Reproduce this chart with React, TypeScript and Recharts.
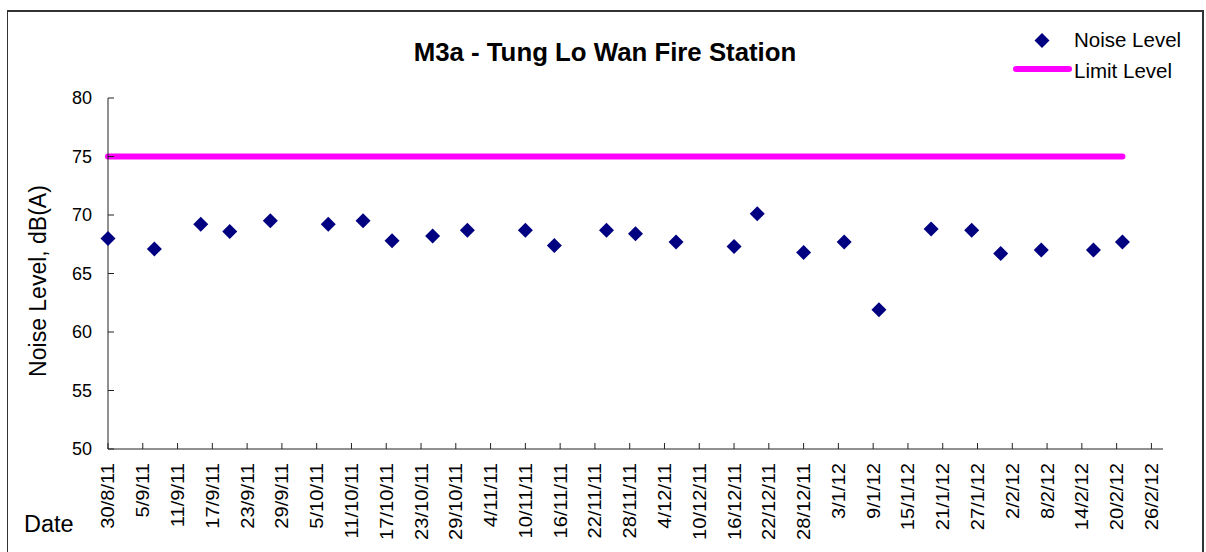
import React from "react";
import { ComposedChart, Scatter, Line, XAxis, YAxis, Legend } from "recharts";

// sampling dates (d/m/yy) and measured noise levels, dB(A)
const noiseDates = [
  "30/8/11", "7/9/11", "15/9/11", "20/9/11", "27/9/11", "7/10/11", "13/10/11",
  "18/10/11", "25/10/11", "31/10/11", "10/11/11", "15/11/11", "24/11/11", "29/11/11",
  "6/12/11", "16/12/11", "20/12/11", "28/12/11", "4/1/12", "10/1/12", "19/1/12",
  "26/1/12", "31/1/12", "7/2/12", "16/2/12", "21/2/12",
];
const noiseLevels = [
  68.0, 67.1, 69.2, 68.6, 69.5, 69.2, 69.5, 67.8, 68.2, 68.7, 68.7, 67.4, 68.7, 68.4,
  67.7, 67.3, 70.1, 66.8, 67.7, 61.9, 68.8, 68.7, 66.7, 67.0, 67.0, 67.7,
];
const limitLevel = 75;

const tickDates = [
  "30/8/11", "5/9/11", "11/9/11", "17/9/11", "23/9/11", "29/9/11", "5/10/11", "11/10/11",
  "17/10/11", "23/10/11", "29/10/11", "4/11/11", "10/11/11", "16/11/11", "22/11/11",
  "28/11/11", "4/12/11", "10/12/11", "16/12/11", "22/12/11", "28/12/11", "3/1/12",
  "9/1/12", "15/1/12", "21/1/12", "27/1/12", "2/2/12", "8/2/12", "14/2/12", "20/2/12", "26/2/12",
];
const axisEndDate = "28/2/12";
const yTicks = [50, 55, 60, 65, 70, 75, 80];

const DAY = 86400000;
const toTime = (s: string) => {
  const [d, m, y] = s.split("/").map(Number);
  return Date.UTC(2000 + y, m - 1, d);
};
const base = toTime(tickDates[0]);
const toDay = (s: string) => Math.round((toTime(s) - base) / DAY);
const fmtDay = (n: number) => {
  const dt = new Date(base + n * DAY);
  return `${dt.getUTCDate()}/${dt.getUTCMonth() + 1}/${String(dt.getUTCFullYear()).slice(2)}`;
};

const noiseData = noiseDates.map((d, i) => ({ day: toDay(d), level: noiseLevels[i] }));
const limitData = [
  { day: toDay(noiseDates[0]), limit: limitLevel },
  { day: toDay(noiseDates[noiseDates.length - 1]), limit: limitLevel },
];

const FONT = '"Liberation Sans", Arial, sans-serif';
const NAVY = "#000080";
const MAGENTA = "#FF00FF";
const AXIS = "#222";

const Diamond = (props: any) => {
  const { cx, cy } = props;
  const r = 7.5;
  return <polygon points={`${cx},${cy - r} ${cx + r},${cy} ${cx},${cy + r} ${cx - r},${cy}`} fill={NAVY} />;
};

// excel-style tick marks point inward; labels run bottom-to-top
const XTick = ({ x, y, payload }: any) => (
  <g>
    <line x1={x} y1={y} x2={x} y2={y - 6} stroke={AXIS} />
    <text x={0} y={0} transform={`translate(${x} ${y + 14}) rotate(-90) scale(1.12 1)`} textAnchor="end"
      dy="0.36em" fontSize={18} fill="#000" fontFamily={FONT}>
      {fmtDay(payload.value)}
    </text>
  </g>
);

const YTick = ({ x, y, payload }: any) => (
  <g>
    <line x1={x} y1={y} x2={x + 6} y2={y} stroke={AXIS} />
    <text x={x - 16} y={y} textAnchor="end" dy="0.36em" fontSize={18} fill="#000" fontFamily={FONT}>
      {payload.value}
    </text>
  </g>
);

const LegendBox = () => (
  <div style={{ fontFamily: FONT, fontSize: 20.5, color: "#000", position: "relative", width: 190, height: 60 }}>
    <svg width={70} height={60} style={{ position: "absolute", left: 0, top: 0 }}>
      <polygon points="36,5 43.5,12.5 36,20 28.5,12.5" fill={NAVY} />
      <line x1={10} y1={41} x2={63} y2={41} stroke={MAGENTA} strokeWidth={6} strokeLinecap="round" />
    </svg>
    <div style={{ position: "absolute", left: 68, top: 0 }}>Noise Level</div>
    <div style={{ position: "absolute", left: 68, top: 31 }}>Limit Level</div>
  </div>
);

export default function App() {
  return (
    <div style={{ position: "fixed", left: 0, top: 0, width: 1206, height: 552, overflow: "hidden", background: "#fff", fontFamily: FONT }}>
      <div style={{ position: "absolute", left: 7, top: 10, width: 1194, height: 600, borderTop: "2px solid #333", borderLeft: "1px solid #333", borderRight: "2px solid #333" }} />
      <div style={{ position: "absolute", left: 0, width: 1210, top: 38, textAlign: "center", fontWeight: "bold", fontSize: 25.8 }}>
        M3a - Tung Lo Wan Fire Station
      </div>
      <div style={{ position: "absolute", left: 38, top: 281, transform: "translate(-50%, -50%) rotate(-90deg)", fontSize: 23, whiteSpace: "nowrap" }}>
        Noise Level, dB(A)
      </div>
      <div style={{ position: "absolute", left: 24, top: 511, fontSize: 23.5 }}>Date</div>
      <ComposedChart width={1206} height={552} margin={{ top: 98, right: 43, bottom: 0, left: 0 }}
        style={{ position: "absolute", left: 0, top: 0 }}>
        <XAxis type="number" dataKey="day" domain={[0, toDay(axisEndDate)]} ticks={tickDates.map(toDay)}
          interval={0} height={103} stroke={AXIS} tickLine={false} tickSize={0} tickMargin={0} tick={<XTick />} />
        <YAxis type="number" domain={[50, 80]} ticks={yTicks} width={108} stroke={AXIS}
          tickLine={false} tickSize={0} tickMargin={0} tick={<YTick />} />
        <Legend layout="vertical" align="center" verticalAlign="middle" content={() => <LegendBox />}
          wrapperStyle={{ position: "absolute", left: 1006, top: 28, width: 190 }} />
        <Line data={limitData} dataKey="limit" name="Limit Level" stroke={MAGENTA} strokeWidth={6}
          strokeLinecap="round" dot={false} activeDot={false} isAnimationActive={false} />
        <Scatter data={noiseData} dataKey="level" name="Noise Level" fill={NAVY} shape={<Diamond />}
          isAnimationActive={false} />
      </ComposedChart>
    </div>
  );
}
